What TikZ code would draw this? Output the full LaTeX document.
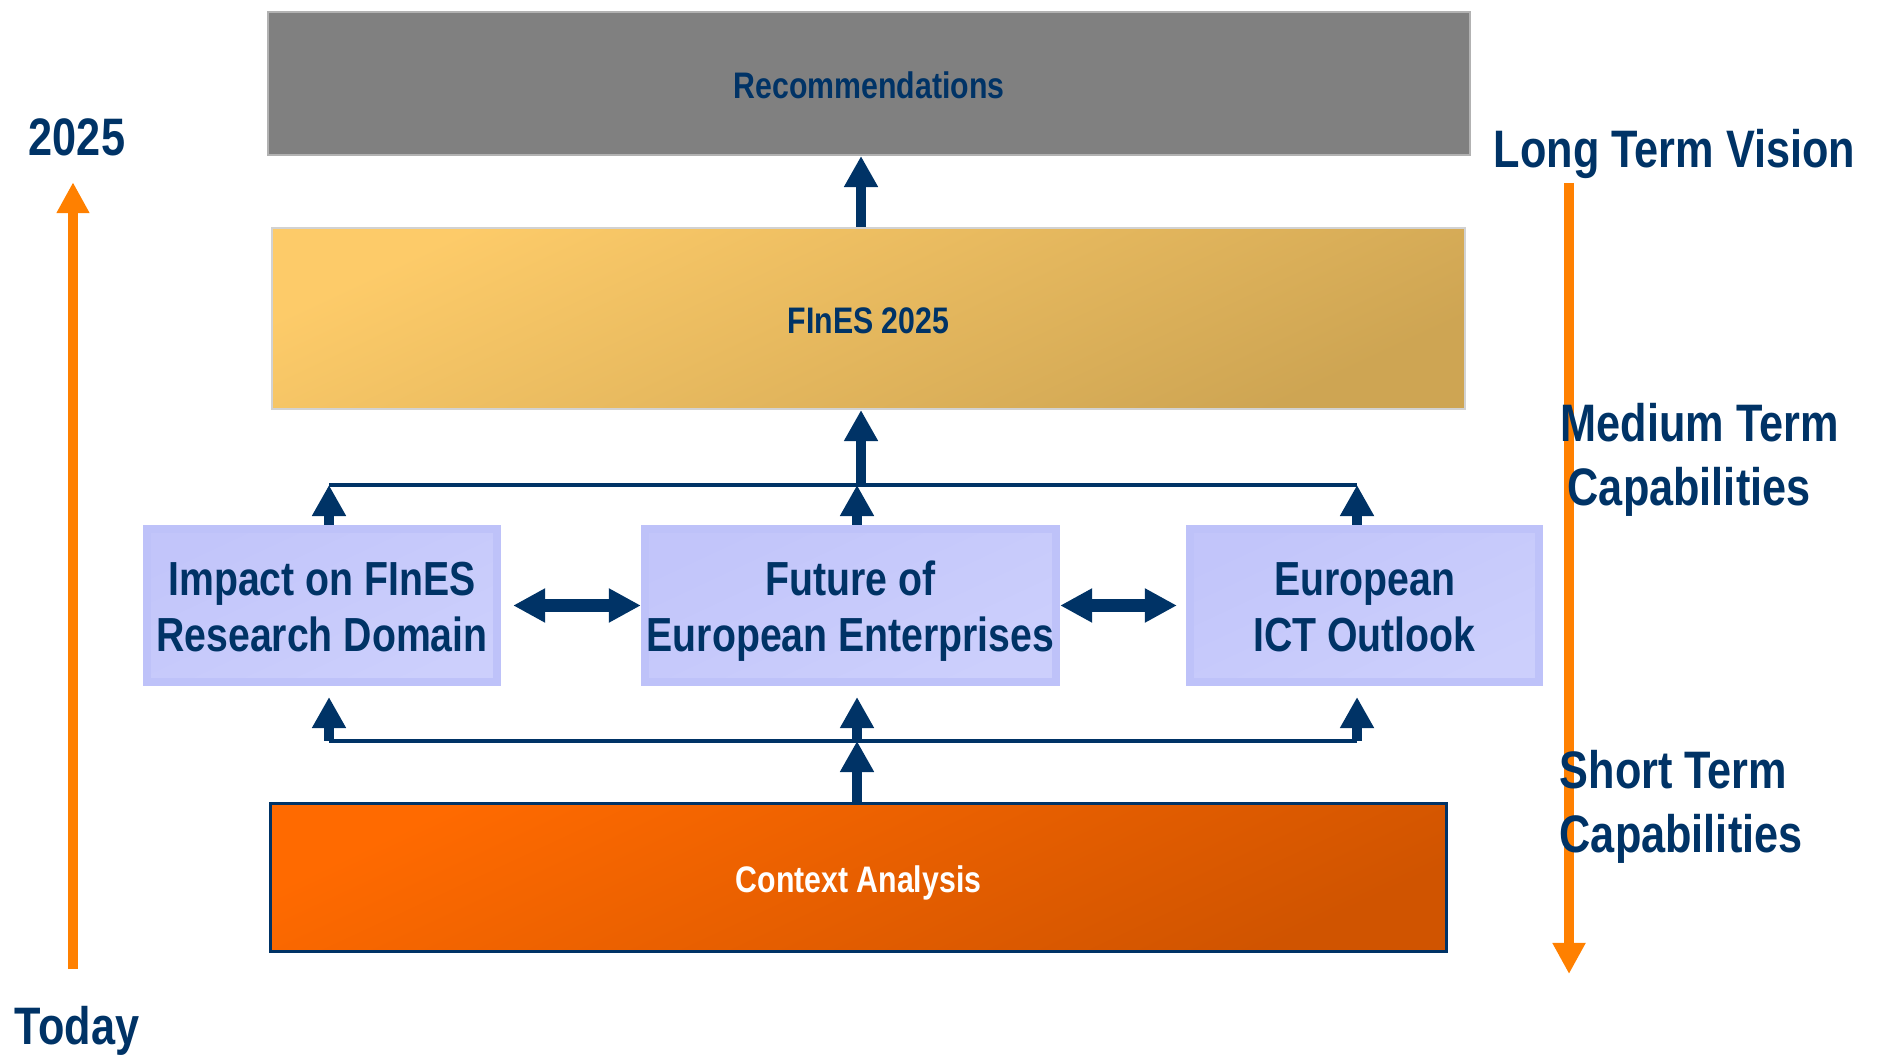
\documentclass[tikz,border=0pt]{standalone}
\usepackage{fontspec}
\newfontfamily\narrowsans[FakeStretch=0.82]{Liberation Sans}
\usetikzlibrary{arrows.meta}

\definecolor{navy}{RGB}{0,51,102}
\definecolor{recgray}{RGB}{128,128,128}
\definecolor{finestop}{RGB}{253,203,105}
\definecolor{finesbot}{RGB}{206,165,83}
\definecolor{lavtop}{RGB}{194,197,250}
\definecolor{lavbot}{RGB}{204,207,252}
\definecolor{lavrim}{RGB}{190,194,249}
\definecolor{ctxtop}{RGB}{255,106,0}
\definecolor{ctxbot}{RGB}{208,84,0}
\definecolor{timeorange}{RGB}{255,128,0}

\newcommand{\topstrut}{\rule{0pt}{13.5pt}}
\newcommand{\botstrut}{\rule[-3pt]{0pt}{3pt}}

\begin{document}
\begin{tikzpicture}[x=0.01cm,y=0.01cm,
    txt/.style={font=\narrowsans\bfseries\fontsize{15pt}{18.2pt}\selectfont, text=navy, inner sep=0pt},
    plan/.style={font=\narrowsans\bfseries\fontsize{10.5pt}{12pt}\selectfont, text=navy, inner sep=0pt,
        text height=8.6pt, text depth=0pt},
    study/.style={font=\narrowsans\bfseries\fontsize{13.6pt}{15.9pt}\selectfont, text=navy, align=center,
        top color=lavtop, bottom color=lavbot, shading angle=25, draw=lavrim, line width=0.08cm,
        inner sep=0pt, minimum height=1.53cm},
    link/.style={draw=navy, line width=3.1pt, -{Triangle[width=0.32cm,length=0.31cm]}},
    twin/.style={draw=navy, line width=3.7pt, {Triangle[width=0.32cm,length=0.32cm]}-{Triangle[width=0.32cm,length=0.32cm]}},
    rail/.style={draw=navy, line width=1.2pt},
    timeline/.style={draw=timeorange, line width=3.1pt, -{Triangle[width=0.31cm,length=0.31cm]}}]
    \useasboundingbox (0,0) rectangle (1883,1055);

    % time axis on the left
    \node[txt, anchor=base] (yr) at (77,899) {2025};
    \node[txt, anchor=base] (today) at (77,11) {Today};
    \draw[timeline, shorten <=0.36cm, shorten >=0.25cm] ([xshift=-0.04cm]today.north) -- ([xshift=-0.04cm]yr.south);

    % horizon axis on the right
    \coordinate (vision) at (1569,872);
    \coordinate (short) at (1569,81);
    \draw[timeline] (vision) -- (short);
    \node[txt, anchor=base west] (lt) at (1493,887) {Long Term Vision};
    \node[txt, anchor=north west, align=left] (mt) at (1560,652) {Medium Term\\\hspace*{0.07cm}Capabilities};
    \node[txt, anchor=north west, align=left] (st) at (1559,305) {Short Term\\Capabilities};

    % boxes
    \node[plan, fill=recgray, draw=gray!60, line width=0.02cm, minimum width=12.02cm, minimum height=1.43cm] (rec) at (869,971.5) {Recommendations};
    \node[plan, top color=finestop, bottom color=finesbot, shading angle=25, draw=gray!35, line width=0.02cm,
        minimum width=11.93cm, minimum height=1.81cm] (fines) at (868.5,736.5) {FInES 2025};
    \node[study, minimum width=3.5cm] (imp) at (322,449.5) {\topstrut Impact on FInES\\Research Domain\botstrut};
    \node[study, minimum width=4.11cm] (fut) at (850.5,449.5) {\topstrut Future of\\European Enterprises\botstrut};
    \node[study, minimum width=3.49cm] (eur) at (1364.5,449.5) {\topstrut European\\ICT Outlook\botstrut};
    \node[plan, top color=ctxtop, bottom color=ctxbot, shading angle=25, draw=navy, line width=0.03cm, text=white,
        minimum width=11.76cm, minimum height=1.48cm] (ctx) at (858.5,177.5) {Context Analysis};

    % rails
    \coordinate (tl) at (329,570);
    \coordinate (tm) at (857,570);
    \coordinate (tr) at (1357,570);
    \coordinate (tc) at (861,570);
    \coordinate (bl) at (329,314);
    \coordinate (bm) at (857,314);
    \coordinate (br) at (1357,314);
    \draw[rail] (tl) -- (tr);
    \draw[rail] (bl) -- (br);

    \foreach \c/\b in {tl/imp, tm/fut, tr/eur}
        \draw[link] (\b.north -| \c) -- (\c);
    \foreach \c/\b in {bl/imp, bm/fut, br/eur}
        \draw[link, shorten >=0.11cm] (\c) -- (\b.south -| \c);
    \draw[link] (ctx.north -| bm) -- (bm);
    \draw[link] (tc) -- (fines.south -| tc);
    \draw[link] (fines.north -| tc) -- (rec.south -| tc);

    \draw[twin, shorten <=0.12cm] (imp.east) -- (fut.west);
    \draw[twin, shorten >=0.09cm] (fut.east) -- (eur.west);
\end{tikzpicture}
\end{document}
